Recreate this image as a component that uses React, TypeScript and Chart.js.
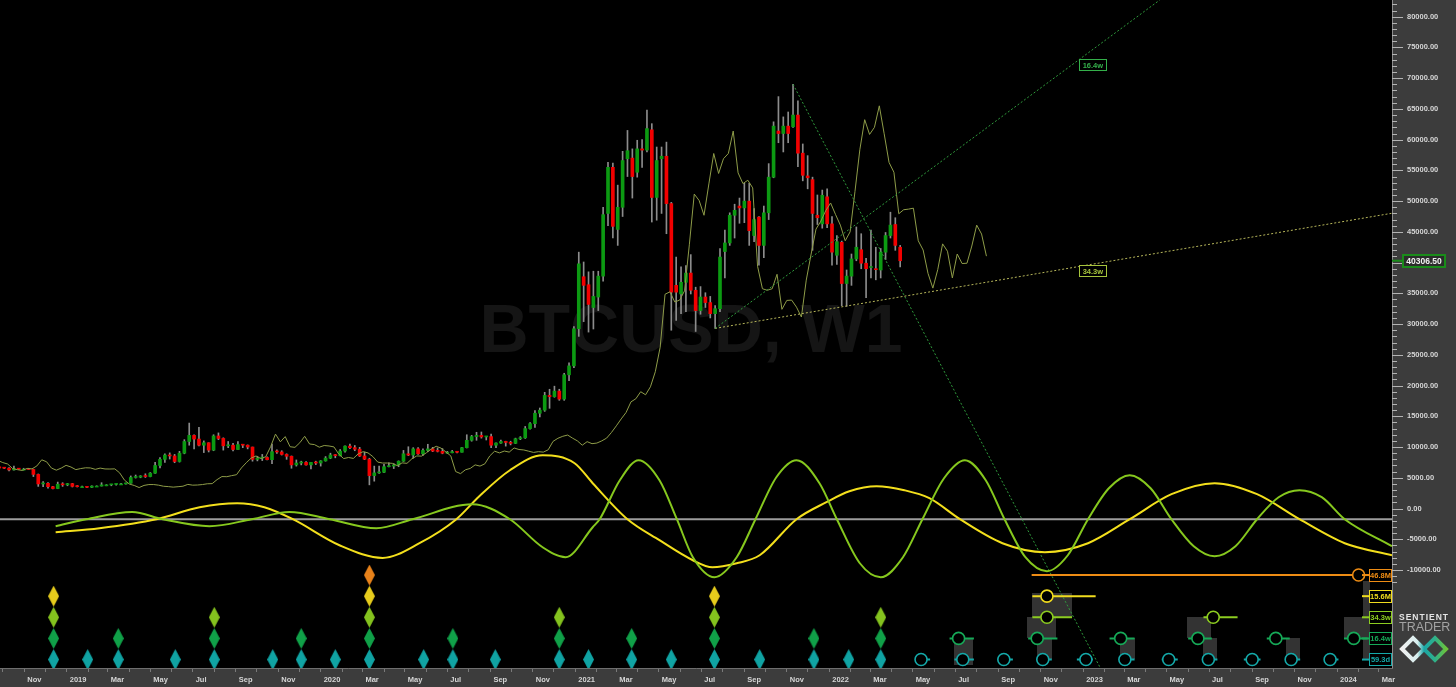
import React, { useEffect, useRef } from 'react';
import { Chart, registerables } from 'chart.js';

Chart.register(...registerables);

// ---------- helpers ----------
const EPOCH = Date.UTC(2019, 0, 1);
const DAY_MS = 86400000;
const toDay = (s: string): number => {
  const [y, m, d] = s.split('-').map(Number);
  return (Date.UTC(y, m - 1, d) - EPOCH) / DAY_MS;
};

// ---------- data ----------
const symbolTitle = 'BTCUSD, W1';
const viewStart = '2018-09-27';
const viewEnd = '2024-03-20';
const priceMin = -25940;
const priceMax = 82716;

// weekly candles, first week below, one value per week
const candleStart = '2018-05-23';
const opens = [
  8400, 7350, 7650, 6750, 6450, 6100, 6500, 6750, 6350, 7400, 8200, 7050, 6300, 6400, 6700, 7250, 6250, 6500, 6700, 6600, 6560, 6280, 6450, 6400, 6400, 6350, 5550, 4000, 4100, 3550, 3250, 3950, 3850,
  4050, 3600, 3550, 3550, 3450, 3650, 3650, 3850, 3850, 3920, 4000, 4000, 4120, 5050, 5100, 5300, 5200, 5750, 7000, 8000, 8700, 8550, 7650, 9000, 10900, 11900, 11300, 10300, 10700, 9500, 11800, 11400, 10200, 10300, 9600, 10400, 10300, 10000, 8000, 8200, 8300, 7950, 9250, 9200, 8800, 8500, 7100, 7400, 7500, 7100, 7500, 7400,
  7750, 8200, 8700, 8600, 9350, 10150, 9900, 9650, 8550, 8030, 5350, 5800, 5900, 6800, 6900, 7100, 7700, 8900, 8700, 9700, 8900, 9450, 9700, 9350, 9300, 9000, 9070, 9250, 9150, 9900, 11100, 11700, 11900, 11650, 11700, 10300, 10650, 10900, 10750, 10600, 11350, 11500, 13000, 13800, 15500, 16000, 18400, 18200, 19100, 17800, 21750, 23200,
  29240, 37700, 36400, 32700, 34400, 37800, 48000, 55500, 45400, 49000, 56900, 57000, 54700, 58500, 58300, 61600, 50600, 56900, 57300, 49600, 36300, 34900, 36800, 38300, 35500, 32200, 34400, 33500, 31700, 32500, 41800, 43200, 47700, 49200, 48900, 50000, 44400, 47400, 42800, 48100, 53900, 61400, 61000, 62200, 62100, 64000, 57800, 54100, 53500, 47700, 46300, 50700,
  46300, 41200, 43300, 36600, 37800, 40600, 42100, 39900, 39200, 39000, 38800, 41700, 44400, 46200, 42500,
];
const highs = [
  8550, 7750, 7780, 6900, 6840, 6600, 6800, 6800, 7550, 8500, 8250, 7150, 6600, 6900, 7400, 7400, 6550, 6800, 6800, 6700, 6650, 6900, 6500, 6550, 6550, 6400, 5620, 4400, 4200, 3620, 4300, 4200, 4100,
  4100, 3750, 3650, 3580, 3700, 3700, 4200, 3900, 3950, 4000, 4100, 4150, 5300, 5450, 5350, 5650, 5850, 7500, 8300, 8900, 9050, 8800, 9300, 11200, 13900, 12000, 13200, 11000, 10700, 12000, 12300, 11500, 10900, 10600, 10900, 10450, 10350, 10000, 8500, 8800, 8400, 10500, 9550, 9400, 8900, 8550, 7900, 7700, 7650, 7500, 7700, 7800,
  8450, 9000, 8800, 9600, 10200, 10500, 10250, 9950, 9180, 8180, 6900, 6900, 7200, 7450, 7300, 7750, 9450, 10050, 9900, 9900, 9700, 10450, 9950, 9850, 9750, 9300, 9450, 9300, 9950, 12000, 11900, 12400, 12450, 11750, 12100, 10700, 11150, 10950, 10950, 11450, 11700, 13350, 14000, 15950, 16350, 18900, 19400, 19900, 19400, 22000, 23700, 29600,
  41700, 40100, 38500, 38600, 38600, 49000, 56300, 56200, 52600, 58100, 61500, 58500, 59900, 60000, 64800, 62600, 58800, 58800, 59600, 49800, 40900, 39300, 39500, 41300, 36000, 36100, 35100, 34500, 33000, 42300, 45300, 48100, 49500, 50500, 52900, 52900, 48800, 47500, 49200, 56100, 62900, 67000, 63700, 64500, 69000, 66300, 59300, 57400, 53900, 51000, 51800, 52000,
  47500, 44400, 43500, 38800, 41400, 45800, 44700, 40700, 45300, 42500, 42300, 44900, 48200, 47300, 42800,
];
const lows = [
  7080, 7200, 6700, 6130, 5800, 5780, 6250, 6100, 6300, 7350, 6950, 6000, 5880, 6250, 6650, 6100, 6100, 6200, 6450, 6500, 6100, 6250, 6370, 6300, 6350, 5200, 3600, 3550, 3300, 3200, 3220, 3600, 3700,
  3500, 3500, 3480, 3380, 3400, 3560, 3650, 3700, 3700, 3800, 3950, 3950, 4100, 4950, 5000, 5050, 5150, 5700, 6600, 7500, 8050, 7450, 7550, 8900, 10300, 9700, 10200, 9100, 9200, 9400, 11200, 9500, 9900, 9350, 9600, 9900, 9700, 7700, 7750, 7800, 7900, 7300, 8950, 8700, 8000, 6550, 6900, 7100, 7050, 6450, 7150, 6900,
  7700, 8100, 8250, 8550, 9150, 9750, 9400, 8450, 7950, 3850, 4450, 5700, 5850, 6750, 6500, 6800, 7650, 8600, 8200, 8800, 8650, 9250, 9250, 9200, 8900, 8950, 9050, 9050, 9150, 9850, 10950, 11100, 11450, 11150, 9900, 9900, 10600, 10150, 10350, 10550, 11200, 11400, 12900, 13200, 14900, 15800, 16300, 18100, 17600, 17600, 20800, 22900,
  28000, 30400, 28700, 29200, 32200, 37000, 46000, 44000, 42800, 47500, 54000, 50500, 53900, 55500, 58000, 46600, 46900, 48000, 44700, 29000, 30600, 31700, 32000, 34900, 28800, 31600, 32700, 31000, 29300, 32000, 37500, 42800, 44000, 46400, 46500, 42800, 43400, 39600, 40800, 47000, 53800, 59500, 58000, 59500, 62000, 55600, 53300, 52000, 42000, 46200, 45600, 45700,
  39600, 39700, 33000, 32900, 36300, 40300, 39000, 34300, 37500, 37200, 37500, 40500, 44000, 42000, 39300,
];
const closes = [
  7350, 7650, 6750, 6450, 6100, 6500, 6750, 6350, 7400, 8200, 7050, 6300, 6400, 6700, 7250, 6250, 6500, 6700, 6600, 6560, 6280, 6450, 6400, 6400, 6350, 5550, 4000, 4100, 3550, 3250, 3950, 3850, 4050,
  3600, 3550, 3550, 3450, 3650, 3650, 3850, 3850, 3920, 4000, 4000, 4120, 5050, 5100, 5300, 5200, 5750, 7000, 8000, 8700, 8550, 7650, 9000, 10900, 11900, 11300, 10300, 10700, 9500, 11800, 11400, 10200, 10300, 9600, 10400, 10300, 10000, 8000, 8200, 8300, 7950, 9250, 9200, 8800, 8500, 7100, 7400, 7500, 7100, 7500, 7400, 7750,
  8200, 8700, 8600, 9350, 10150, 9900, 9650, 8550, 8030, 5350, 5800, 5900, 6800, 6900, 7100, 7700, 8900, 8700, 9700, 8900, 9450, 9700, 9350, 9300, 9000, 9070, 9250, 9150, 9900, 11100, 11700, 11900, 11650, 11700, 10300, 10650, 10900, 10750, 10600, 11350, 11500, 13000, 13800, 15500, 16000, 18400, 18200, 19100, 17800, 21750, 23200, 29240,
  39800, 36300, 33200, 34500, 37800, 47800, 55500, 45900, 49000, 56600, 58200, 54000, 58500, 58300, 61800, 50600, 56600, 57300, 49600, 35200, 35200, 36800, 38300, 35500, 32200, 34400, 33500, 31700, 32500, 40900, 43200, 47700, 48500, 48900, 50000, 45200, 47000, 42800, 48100, 53900, 62200, 61000, 62200, 61000, 64000, 57800, 54200, 53800, 48000, 47300, 50950, 46300,
  41700, 43400, 36600, 37800, 40600, 42500, 39900, 39000, 39300, 38850, 41700, 44400, 46100, 42800, 40306.5,
];

// FLD (shifted median price)
const fldShiftDays = 124;

// cycle oscillators (bandpass outputs), base level of the oscillators
const oscillatorBase = -1740;
const cycle156MDates = ['2018-12-16', '2019-02-17', '2019-05-10', '2019-07-11', '2019-09-03', '2019-10-12', '2019-11-22', '2020-01-28', '2020-03-30', '2020-05-22', '2020-07-14', '2020-08-16', '2020-09-29', '2020-11-15', '2020-12-31', '2021-01-26', '2021-03-17', '2021-05-02', '2021-06-19', '2021-07-17', '2021-08-21', '2021-09-23', '2021-11-15', '2021-12-28', '2022-01-30', '2022-03-10', '2022-04-19', '2022-05-25', '2022-07-08', '2022-09-07', '2022-11-07', '2023-01-08', '2023-03-09', '2023-05-08', '2023-07-09', '2023-09-08', '2023-11-08', '2024-01-12', '2024-03-20'];
const cycle156MValues = [-3850, -3200, -1740, 210, 860, 210, -1740, -5970, -8030, -5640, -1740, 2000, 6230, 8670, 7370, 4120, -1740, -5150, -8410, -9550, -8900, -7600, -1740, 1030, 2810, 3630, 2980, 1680, -1740, -5640, -7100, -5640, -1740, 2330, 4120, 2330, -1740, -5640, -7600];
const cycle343wDates = ['2018-12-16', '2019-01-29', '2019-04-05', '2019-05-19', '2019-07-25', '2019-09-24', '2019-11-17', '2020-01-14', '2020-03-21', '2020-05-12', '2020-08-06', '2020-09-29', '2020-11-15', '2020-12-18', '2021-01-26', '2021-02-05', '2021-03-06', '2021-04-02', '2021-05-02', '2021-05-27', '2021-06-19', '2021-07-20', '2021-08-21', '2021-09-17', '2021-10-17', '2021-11-15', '2021-12-18', '2022-01-12', '2022-02-14', '2022-03-16', '2022-04-17', '2022-05-15', '2022-06-15', '2022-07-15', '2022-08-14', '2022-09-10', '2022-10-10', '2022-11-10', '2022-12-10', '2023-01-08', '2023-02-07', '2023-03-09', '2023-04-08', '2023-05-08', '2023-06-09', '2023-07-09', '2023-08-08', '2023-09-08', '2023-10-09', '2023-11-08', '2023-12-10', '2024-01-12', '2024-03-20'];
const cycle343wValues = [-2880, -1740, -550, -1740, -2880, -1740, -550, -1740, -3200, -1740, 700, -1740, -6300, -7920, -3040, -1740, 4600, 7860, 4600, -1740, -7920, -11170, -7920, -1740, 5090, 7860, 4120, -1740, -8900, -11170, -7920, -1740, 4930, 7860, 4600, -1740, -7920, -10200, -7600, -1740, 3300, 5420, 3300, -1740, -6130, -7760, -6130, -1740, 1840, 2980, 1840, -1740, -6130];

// cycle names (rows top to bottom)
const cycleNames = ['46.8M', '15.6M', '34.3w', '16.4w', '59.3d'];

// past troughs (diamonds)
const troughs468M = ['2020-03-11'];
const troughs156M = ['2018-12-13', '2020-03-11', '2021-07-20'];
const troughs343w = ['2018-12-13', '2019-08-01', '2020-03-11', '2020-12-09', '2021-07-20', '2022-03-16'];
const troughs164w = ['2018-12-13', '2019-03-16', '2019-08-01', '2019-12-04', '2020-03-11', '2020-07-09', '2020-12-09', '2021-03-23', '2021-07-20', '2021-12-10', '2022-03-16'];
const troughs593d = ['2018-12-13', '2019-01-31', '2019-03-16', '2019-06-06', '2019-08-01', '2019-10-24', '2019-12-04', '2020-01-22', '2020-03-11', '2020-05-28', '2020-07-09', '2020-09-08', '2020-12-09', '2021-01-20', '2021-03-23', '2021-05-19', '2021-07-20', '2021-09-23', '2021-12-10', '2022-01-29', '2022-03-16'];

// projected troughs (circles) and their ranges (days before / after)
const proj468MDates = ['2024-02-01'];
const proj468MSpans = [[-470, 14]];
const proj156MDates = ['2022-11-10'];
const proj156MSpans = [[-21, 70]];
const proj343wDates = ['2022-11-10', '2023-07-07'];
const proj343wSpans = [[-21, 36], [-14, 35]];
const proj164wDates = ['2022-07-06', '2022-10-27', '2023-02-24', '2023-06-15', '2023-10-05', '2024-01-25'];
const proj164wSpans = [[-13, 22], [-13, 29], [-16, 20], [-14, 20], [-13, 20], [-14, 20]];
const proj593dDates = ['2022-05-13', '2022-07-12', '2022-09-09', '2022-11-04', '2023-01-05', '2023-03-02', '2023-05-04', '2023-06-30', '2023-09-01', '2023-10-27', '2023-12-22'];
const proj593dSpans = [[0, 13], [-12, 16], [-9, 13], [-9, 13], [-13, 10], [-7, 14], [-10, 13], [-7, 13], [-12, 12], [-7, 13], [-7, 12]];

// shaded projection boxes: start, end, top row, bottom row
const projectionBoxes: [string, string, number, number][] = [
  ['2022-10-19', '2022-12-16', 0.86, 2],
  ['2022-10-13', '2022-11-24', 2, 3],
  ['2022-10-26', '2022-11-17', 3, 4],
  ['2022-06-30', '2022-07-28', 3, 4.3],
  ['2023-02-23', '2023-03-16', 3, 4],
  ['2023-05-31', '2023-07-05', 2, 3],
  ['2023-06-22', '2023-07-12', 3, 4],
  ['2023-10-19', '2023-11-08', 3, 4],
  ['2024-01-11', '2024-02-17', 2, 3],
  ['2024-02-07', '2024-02-17', 0.3, 4],
];

// trend lines [date, price]
const trend164w: [string, number][] = [['2021-07-21', 29300], ['2023-04-21', 82700]];
const trend343w: [string, number][] = [['2021-07-21', 29300], ['2024-03-20', 48030]];
const trendDown: [string, number][] = [['2021-11-10', 69000], ['2023-02-01', -27280]];
const trendLabelTexts = ['16.4w', '34.3w'];
const trendLabelDates = ['2023-01-15', '2023-01-15'];
const trendLabelPrices = [72100, 38600];

// axis tick labels (every second month, starting Nov 2018)
const xTickLabels = ['Nov', '2019', 'Mar', 'May', 'Jul', 'Sep', 'Nov', '2020', 'Mar', 'May', 'Jul', 'Sep', 'Nov', '2021', 'Mar', 'May', 'Jul', 'Sep', 'Nov', '2022', 'Mar', 'May', 'Jul', 'Sep', 'Nov', '2023', 'Mar', 'May', 'Jul', 'Sep', 'Nov', '2024', 'Mar'];
const yLabelMin = -10000;
const yLabelMax = 80000;
const yLabelStep = 5000;
const yMinorStep = 1000;

// ---------- styles ----------
const FONT = '"Liberation Sans", Arial, sans-serif';
const rowColors = ['#ee8c14', '#f0dc1e', '#8ccc20', '#16aa58', '#14a9a9'];
const diamondColors = ['#e8821a', '#e6cc1c', '#84c21e', '#10a048', '#10a3a3'];
const trendLabelColors = ['#34b04a', '#a6c43c'];

function makeDiamond(color: string) {
  const c = document.createElement('canvas');
  c.width = 11;
  c.height = 21;
  const g = c.getContext('2d')!;
  g.fillStyle = color;
  g.beginPath();
  g.moveTo(5.5, 0);
  g.lineTo(11, 10.5);
  g.lineTo(5.5, 21);
  g.lineTo(0, 10.5);
  g.closePath();
  g.fill();
  return c;
}

function tag(ctx: any, x: number, y: number, w: number, h: number, text: string, border: string, textColor: string, fill: string, size: number) {
  const top = Math.round(y - h / 2);
  ctx.fillStyle = fill;
  ctx.fillRect(x, top, w, h);
  ctx.strokeStyle = border;
  ctx.lineWidth = 1;
  ctx.strokeRect(Math.round(x) + 0.5, top + 0.5, w - 1, h - 1);
  ctx.fillStyle = textColor;
  ctx.font = `bold ${size}px ${FONT}`;
  ctx.textAlign = 'center';
  ctx.textBaseline = 'middle';
  ctx.fillText(text, x + w / 2, top + h / 2 + 0.5);
}

const overlayPlugin = {
  id: 'overlay',
  beforeDraw(chart: any) {
    const { ctx, chartArea: a, width, height } = chart;
    ctx.save();
    ctx.fillStyle = '#000';
    ctx.fillRect(0, 0, width, height);
    ctx.fillStyle = '#3c3c3c';
    ctx.fillRect(a.right, 0, width - a.right, height);
    ctx.fillRect(0, a.bottom, width, height - a.bottom);
    ctx.restore();
  },
  beforeDatasetsDraw(chart: any) {
    const { ctx, chartArea: a, scales } = chart;
    ctx.save();
    ctx.beginPath();
    ctx.rect(a.left, a.top, a.width, a.height);
    ctx.clip();
    ctx.font = `bold 68px ${FONT}`;
    ctx.fillStyle = '#151515';
    ctx.textAlign = 'center';
    ctx.textBaseline = 'alphabetic';
    ctx.fillText(symbolTitle, a.left + 691, a.top + 352);
    ctx.fillStyle = '#333333';
    projectionBoxes.forEach(([s, e, r0, r1]) => {
      const x0 = scales.x.getPixelForValue(toDay(s));
      const x1 = scales.x.getPixelForValue(toDay(e));
      const y0 = scales.yRow.getPixelForValue(r0);
      const y1 = scales.yRow.getPixelForValue(r1);
      ctx.fillRect(Math.round(x0), Math.round(y0), Math.round(x1 - x0), Math.round(y1 - y0));
    });
    ctx.restore();
  },
  afterDatasetsDraw(chart: any) {
    const { ctx, chartArea: a, scales } = chart;
    ctx.save();
    trendLabelTexts.forEach((t, i) => {
      const x = scales.x.getPixelForValue(toDay(trendLabelDates[i]));
      const y = scales.y.getPixelForValue(trendLabelPrices[i]);
      tag(ctx, x - 14, y, 28, 12, t, trendLabelColors[i], trendLabelColors[i], '#000', 7.5);
    });
    cycleNames.forEach((n, row) => {
      const y = scales.yRow.getPixelForValue(row);
      ctx.strokeStyle = rowColors[row];
      ctx.lineWidth = 2;
      ctx.beginPath();
      ctx.moveTo(a.right - 30, y);
      ctx.lineTo(a.right - 23, y);
      ctx.stroke();
      tag(ctx, a.right - 23, y, 23, 13, n, rowColors[row], rowColors[row], '#000', 7.5);
    });
    ctx.restore();
  },
  afterDraw(chart: any) {
    const { ctx, chartArea: a, scales } = chart;
    const ys = scales.y;
    ctx.save();
    // right axis line and ticks
    ctx.strokeStyle = '#8c8c8c';
    ctx.lineWidth = 1;
    ctx.beginPath();
    ctx.moveTo(a.right + 0.5, a.top);
    ctx.lineTo(a.right + 0.5, a.bottom);
    ctx.stroke();
    ctx.strokeStyle = '#b4b4b4';
    for (let v = -12000; v <= 82000; v += yMinorStep) {
      const y = Math.round(ys.getPixelForValue(v)) + 0.5;
      if (y < a.top || y > a.bottom) continue;
      const major = v % yLabelStep === 0;
      ctx.beginPath();
      ctx.moveTo(a.right, y);
      ctx.lineTo(a.right + (major ? 11 : 5), y);
      ctx.stroke();
    }
    // last price label
    const last = closes[closes.length - 1];
    const py = ys.getPixelForValue(last);
    ctx.strokeStyle = '#1a8c1a';
    ctx.lineWidth = 2;
    ctx.beginPath();
    ctx.moveTo(a.right, py);
    ctx.lineTo(a.right + 10, py);
    ctx.stroke();
    const bx = a.right + 10;
    const bt = Math.round(py - 7);
    ctx.fillStyle = '#2c2c2c';
    ctx.fillRect(bx, bt, 44, 14);
    ctx.strokeRect(bx + 1, bt + 1, 42, 12);
    ctx.fillStyle = '#f2f2f2';
    ctx.font = `bold 8.5px ${FONT}`;
    ctx.textAlign = 'center';
    ctx.textBaseline = 'middle';
    ctx.fillText(last.toFixed(2), bx + 22, bt + 7.5);
    // logo
    const lx = a.right + 7;
    ctx.textAlign = 'left';
    ctx.textBaseline = 'alphabetic';
    ctx.fillStyle = '#e4e4e4';
    ctx.font = `bold 8.5px ${FONT}`;
    (ctx as any).letterSpacing = '1px';
    ctx.fillText('SENTIENT', lx, 620);
    ctx.fillStyle = '#a2a2a2';
    ctx.font = `12.5px ${FONT}`;
    (ctx as any).letterSpacing = '0px';
    ctx.fillText('TRADER', lx, 631);
    const gx = a.right + 10;
    const grad = ctx.createLinearGradient(gx, 0, gx + 44, 0);
    grad.addColorStop(0, '#f0f0f0');
    grad.addColorStop(0.35, '#d8eeee');
    grad.addColorStop(0.5, '#1aa6a6');
    grad.addColorStop(0.75, '#2fb08a');
    grad.addColorStop(1, '#6cc23a');
    ctx.strokeStyle = grad;
    ctx.lineWidth = 4;
    ctx.lineJoin = 'miter';
    ctx.beginPath();
    ctx.moveTo(gx, 649);
    ctx.lineTo(gx + 11, 638);
    ctx.lineTo(gx + 22, 649);
    ctx.lineTo(gx + 33, 638);
    ctx.lineTo(gx + 44, 649);
    ctx.lineTo(gx + 33, 660);
    ctx.lineTo(gx + 22, 649);
    ctx.lineTo(gx + 11, 660);
    ctx.closePath();
    ctx.stroke();
    ctx.restore();
  },
};

export default function App() {
  const ref = useRef<HTMLCanvasElement>(null);

  useEffect(() => {
    document.body.style.margin = '0';
    document.body.style.background = '#000';
    const canvas = ref.current;
    if (!canvas) return;

    const startDay = toDay(candleStart);
    const candleDays = opens.map((_, i) => startDay + 7 * i);
    const bodies = opens.map((o, i) => ({ x: candleDays[i], y: [o, closes[i]] }));
    const wicks = opens.map((_, i) => ({ x: candleDays[i], y: [lows[i], highs[i]] }));
    const bodyColors = opens.map((o, i) => (closes[i] >= o ? '#0c9a12' : '#f20000'));
    const fld = candleDays.map((d, i) => ({ x: d + fldShiftDays, y: (highs[i] + lows[i]) / 2 }));

    const troughSets = [troughs468M, troughs156M, troughs343w, troughs164w, troughs593d];
    const projDates = [proj468MDates, proj156MDates, proj343wDates, proj164wDates, proj593dDates];
    const projSpans = [proj468MSpans, proj156MSpans, proj343wSpans, proj164wSpans, proj593dSpans];

    const diamondSets = troughSets.map((dates, row) => ({
      type: 'scatter',
      yAxisID: 'yRow',
      order: 1,
      data: dates.map((d) => ({ x: toDay(d), y: row })),
      pointStyle: makeDiamond(diamondColors[row]),
      pointRadius: 6,
    }));
    const circleSets = projDates.map((dates, row) => ({
      type: 'scatter',
      yAxisID: 'yRow',
      order: 2,
      data: dates.map((d) => ({ x: toDay(d), y: row })),
      pointStyle: 'circle',
      pointRadius: 6,
      pointBorderWidth: 1.6,
      pointBackgroundColor: '#000',
      pointBorderColor: rowColors[row],
    }));
    const rangeSets = projDates.map((dates, row) => ({
      type: 'line',
      yAxisID: 'yRow',
      order: 3,
      data: dates.flatMap((d, i) => {
        const c = toDay(d);
        const [s0, s1] = projSpans[row][i];
        return [
          { x: c + s0, y: row },
          { x: c + s1, y: row },
          { x: c + s1 + 0.01, y: null },
        ];
      }),
      borderColor: rowColors[row],
      borderWidth: 2,
      pointRadius: 0,
      spanGaps: false,
    }));
    const trendSet = (pts: [string, number][], color: string) => ({
      type: 'line',
      order: 5,
      data: pts.map(([d, v]) => ({ x: toDay(d), y: v })),
      borderColor: color,
      borderWidth: 1,
      borderDash: [2, 2],
      pointRadius: 0,
    });

    const monthTicks: number[] = [];
    const monthLabels: string[] = [];
    for (let i = 0; i < 66; i++) {
      monthTicks.push((Date.UTC(2018, 9 + i, 1) - EPOCH) / DAY_MS);
      monthLabels.push(i % 2 === 1 ? xTickLabels[(i - 1) / 2] : '');
    }
    const yTicks: number[] = [];
    for (let v = -25000; v <= 82000; v += yMinorStep) yTicks.push(v);

    const config: any = {
      type: 'line',
      data: {
        datasets: [
          ...diamondSets,
          ...circleSets,
          ...rangeSets,
          {
            type: 'line',
            order: 4,
            data: cycle343wDates.map((d, i) => ({ x: toDay(d), y: cycle343wValues[i] })),
            borderColor: '#86c81e',
            borderWidth: 2,
            pointRadius: 0,
            cubicInterpolationMode: 'monotone',
          },
          {
            type: 'line',
            order: 4,
            data: cycle156MDates.map((d, i) => ({ x: toDay(d), y: cycle156MValues[i] })),
            borderColor: '#f3df1c',
            borderWidth: 2,
            pointRadius: 0,
            cubicInterpolationMode: 'monotone',
          },
          trendSet(trend164w, '#2f9a3c'),
          trendSet(trend343w, '#b6b65a'),
          trendSet(trendDown, '#2f9a3c'),
          {
            type: 'line',
            order: 5,
            data: fld,
            borderColor: '#8e9c48',
            borderWidth: 1,
            pointRadius: 0,
          },
          {
            type: 'bar',
            order: 6,
            data: bodies,
            backgroundColor: bodyColors,
            barThickness: 3,
            minBarLength: 1,
            grouped: false,
            borderWidth: 0,
          },
          {
            type: 'bar',
            order: 7,
            data: wicks,
            backgroundColor: '#8c8c8c',
            barThickness: 1,
            grouped: false,
            borderWidth: 0,
          },
          {
            type: 'line',
            order: 10,
            data: [
              { x: toDay(viewStart), y: oscillatorBase },
              { x: toDay(viewEnd), y: oscillatorBase },
            ],
            borderColor: '#9c9c9c',
            borderWidth: 2,
            pointRadius: 0,
          },
        ],
      },
      options: {
        responsive: false,
        devicePixelRatio: 1,
        animation: false,
        events: [],
        layout: { padding: 0, autoPadding: false },
        plugins: { legend: { display: false }, tooltip: { enabled: false } },
        scales: {
          x: {
            type: 'linear',
            position: 'bottom',
            min: toDay(viewStart),
            max: toDay(viewEnd),
            offset: false,
            afterFit: (s: any) => {
              s.height = 19;
              s.paddingLeft = 0;
              s.paddingRight = 0;
            },
            afterBuildTicks: (s: any) => {
              s.ticks = monthTicks.map((v) => ({ value: v }));
            },
            ticks: {
              autoSkip: false,
              maxRotation: 0,
              minRotation: 0,
              align: 'start',
              labelOffset: 3,
              padding: 3,
              color: '#d6d6d6',
              font: { family: FONT, size: 7.5, weight: 'bold' },
              callback: (_v: any, i: number) => monthLabels[i] ?? '',
            },
            grid: {
              offset: false,
              drawOnChartArea: false,
              drawTicks: true,
              tickLength: 4,
              color: '#7a7a7a',
              tickColor: '#7a7a7a',
            },
            border: { display: true, color: '#6e6e6e' },
          },
          y: {
            type: 'linear',
            position: 'right',
            min: priceMin,
            max: priceMax,
            beginAtZero: false,
            afterFit: (s: any) => {
              s.width = 64;
              s.paddingTop = 0;
              s.paddingBottom = 0;
            },
            afterBuildTicks: (s: any) => {
              s.ticks = yTicks.map((v) => ({ value: v }));
            },
            ticks: {
              autoSkip: false,
              padding: 15,
              color: '#d6d6d6',
              font: { family: FONT, size: 7.5, weight: 'bold' },
              callback: (v: number) =>
                v % yLabelStep === 0 && v >= yLabelMin && v <= yLabelMax ? v.toFixed(2) : '',
            },
            grid: { display: false, drawTicks: false },
            border: { display: false },
          },
          yRow: {
            type: 'linear',
            display: false,
            reverse: true,
            min: -27.22,
            max: 4.4,
          },
        },
      },
      plugins: [overlayPlugin],
    };

    const chart = new Chart(canvas, config);
    return () => chart.destroy();
  }, []);

  return (
    <div style={{ position: 'fixed', left: 0, top: 0, width: 1456, height: 687, background: '#000' }}>
      <canvas ref={ref} width={1456} height={687} style={{ width: 1456, height: 687, display: 'block' }} />
    </div>
  );
}
